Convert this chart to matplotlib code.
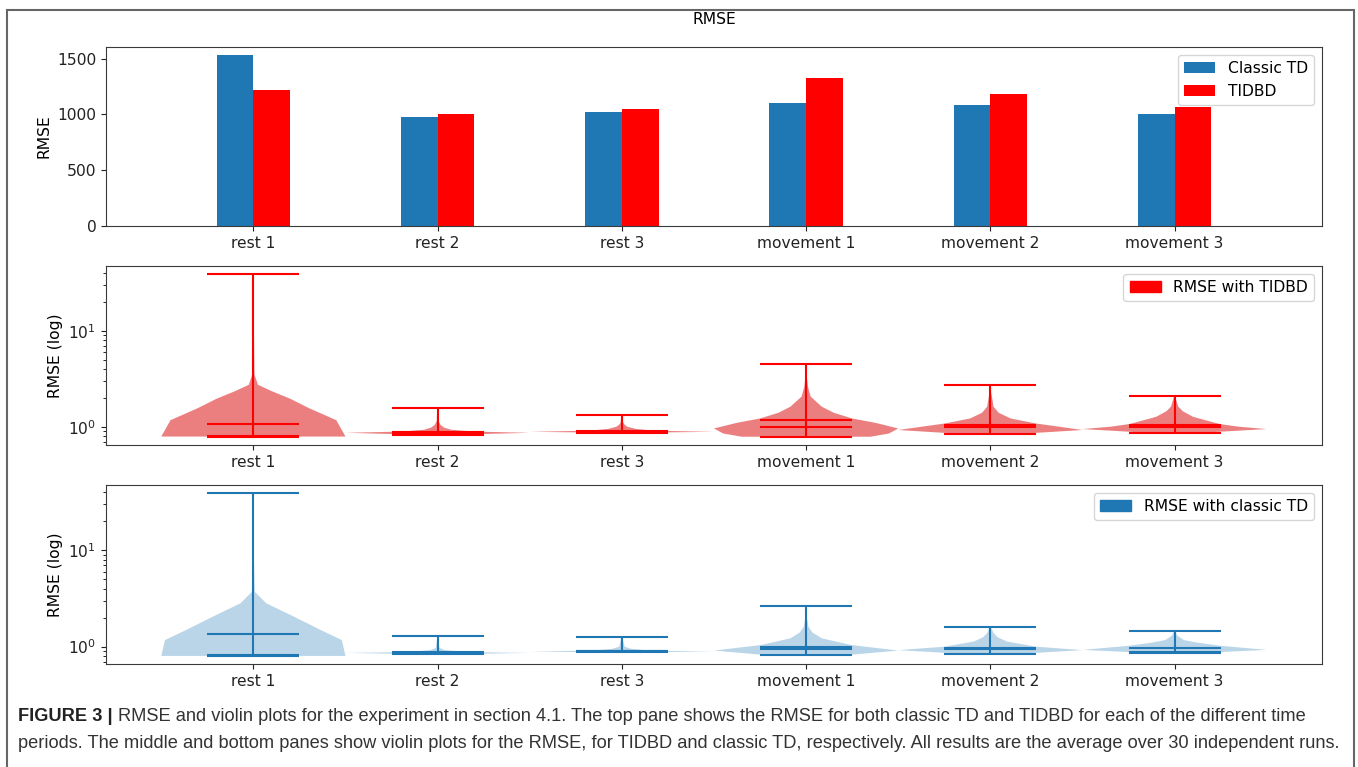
import numpy as np
import matplotlib
matplotlib.use("Agg")
import matplotlib.pyplot as plt
from matplotlib import font_manager
from matplotlib.patches import Rectangle, Patch

# ── Data ─────────────────────────────────────────────────────────────────────
categories = ["rest 1", "rest 2", "rest 3", "movement 1", "movement 2", "movement 3"]
rmse_classic = [1530, 975, 1020, 1105, 1088, 1000]
rmse_tidbd = [1222, 1008, 1045, 1323, 1180, 1070]

# violin outlines (y value, relative half-width) and summary lines, TIDBD
tidbd_coords = [
    [0.79, 1.17, 1.57, 1.96, 2.35, 2.74, 3.5, 10.0, 39.4],
    [0.83, 0.865, 0.89, 0.93, 0.98, 1.05, 1.15, 1.56],
    [0.87, 0.885, 0.91, 0.95, 1.0, 1.05, 1.1, 1.32],
    [0.787, 0.85, 0.96, 1.1, 1.22, 1.4, 1.62, 2.06, 2.6, 3.2, 4.52],
    [0.84, 0.925, 1.0, 1.08, 1.22, 1.4, 1.62, 2.25, 2.75],
    [0.866, 0.946, 1.0, 1.067, 1.27, 1.45, 1.62, 2.11],
]
tidbd_vals = [
    [1.0, 0.90, 0.60, 0.40, 0.20, 0.05, 0.012, 0.006, 0.003],
    [0.3, 1.0, 0.40, 0.15, 0.07, 0.03, 0.01, 0.005],
    [0.3, 1.0, 0.35, 0.15, 0.06, 0.03, 0.015, 0.005],
    [0.7, 0.9, 1.0, 0.75, 0.5, 0.3, 0.17, 0.05, 0.02, 0.01, 0.003],
    [0.3, 1.0, 0.75, 0.5, 0.22, 0.09, 0.035, 0.01, 0.003],
    [0.3, 1.0, 0.7, 0.49, 0.2, 0.09, 0.04, 0.003],
]
tidbd_mean = [1.075, 0.88, 0.90, 1.175, 1.05, 1.05]
tidbd_median = [0.81, 0.865, 0.89, 1.0, 0.985, 0.99]

# classic TD
classic_coords = [
    [0.80, 1.17, 1.49, 2.05, 2.82, 3.72, 10.0, 39.2],
    [0.84, 0.86, 0.88, 0.92, 0.97, 1.29],
    [0.875, 0.89, 0.91, 0.95, 1.0, 1.27],
    [0.81, 0.91, 1.04, 1.22, 1.4, 1.61, 2.05, 2.63],
    [0.84, 0.92, 1.0, 1.13, 1.25, 1.38, 1.61],
    [0.86, 0.925, 1.02, 1.1, 1.17, 1.3, 1.46],
]
classic_vals = [
    [1.0, 0.96, 0.73, 0.44, 0.14, 0.015, 0.004, 0.002],
    [0.3, 1.0, 0.3, 0.08, 0.02, 0.003],
    [0.3, 1.0, 0.3, 0.1, 0.03, 0.003],
    [0.4, 1.0, 0.49, 0.17, 0.07, 0.025, 0.008, 0.002],
    [0.3, 1.0, 0.49, 0.18, 0.08, 0.036, 0.003],
    [0.3, 1.0, 0.5, 0.25, 0.1, 0.03, 0.003],
]
classic_mean = [1.36, 0.87, 0.90, 0.985, 0.965, 0.976]
classic_median = [0.82, 0.865, 0.90, 0.94, 0.955, 0.875]

# ── Figure ───────────────────────────────────────────────────────────────────
W, H = 1358, 767
fig = plt.figure(figsize=(W / 100, H / 100), dpi=100)
fs = 11.2


def px_axes(top, bottom, left=106, right=1322):
    return fig.add_axes([left / W, 1 - bottom / H, (right - left) / W, (bottom - top) / H])


def style(ax):
    for s in ax.spines.values():
        s.set_color("#3a3a3a")
    ax.tick_params(labelsize=fs, colors="#222222")


# top: bar chart
ax0 = px_axes(47, 226)
x = np.arange(len(categories))
ax0.bar(x - 0.1, rmse_classic, width=0.2, color="#1f77b4", label="Classic TD")
ax0.bar(x + 0.1, rmse_tidbd, width=0.2, color="red", label="TIDBD")
ax0.set_xticks(x)
ax0.set_xticklabels(categories)
ax0.set_xlim(-0.8, 5.8)
ax0.set_ylim(0, 1605)
ax0.set_yticks([0, 500, 1000, 1500])
ax0.set_ylabel("RMSE", fontsize=fs)
ax0.legend(loc="upper right", fontsize=fs)
style(ax0)
fig.text(714 / W, 1 - 19 / H, "RMSE", ha="center", va="center", fontsize=fs)


def violins(ax, coords, vals, means, medians, fill, alpha, color, label):
    stats = []
    for c, v, m, md in zip(coords, vals, means, medians):
        stats.append({"coords": np.array(c), "vals": np.array(v), "mean": m,
                      "median": md, "min": c[0], "max": c[-1]})
    pos = np.arange(1, len(stats) + 1)
    parts = ax.violin(stats, positions=pos, widths=1.0,
                      showmeans=True, showextrema=True, showmedians=True)
    for b in parts["bodies"]:
        b.set_facecolor(fill)
        b.set_alpha(alpha)
        b.set_linewidth(0)
    for key in ["cmeans", "cmins", "cmaxes", "cbars", "cmedians"]:
        parts[key].set_color(color)
        parts[key].set_linewidth(1.5)
    ax.set_yscale("log")
    ax.set_xticks(pos)
    ax.set_xticklabels(categories)
    ax.set_xlim(0.2, 6.8)
    ax.set_ylabel("RMSE (log)", fontsize=fs)
    ax.legend(handles=[Patch(color=color, label=label)], loc="upper right", fontsize=fs)
    style(ax)


ax1 = px_axes(266, 445)
violins(ax1, tidbd_coords, tidbd_vals, tidbd_mean, tidbd_median,
        "#d80000", 0.5, "red", "RMSE with TIDBD")
ax1.set_ylim(0.645, 47.6)

ax2 = px_axes(485, 664)
violins(ax2, classic_coords, classic_vals, classic_mean, classic_median,
        "#1f77b4", 0.3, "#1f77b4", "RMSE with classic TD")
ax2.set_ylim(0.66, 47.8)

# frame around the figure
fig.patches.append(Rectangle((7 / W, -0.05), (1354 - 7) / W, 1.05 - 10 / H,
                             transform=fig.transFigure, fill=False,
                             edgecolor="#666666", linewidth=1.5))

# ── Caption ──────────────────────────────────────────────────────────────────
cap_family = "Liberation Sans"
try:
    font_manager.findfont(font_manager.FontProperties(family="Liberation Sans Narrow"),
                          fallback_to_default=False)
    cap_family = "Liberation Sans Narrow"
except Exception:
    pass

line1 = ("RMSE and violin plots for the experiment in section 4.1. The top pane shows the RMSE "
         "for both classic TD and TIDBD for each of the different time")
line2 = ("periods. The middle and bottom panes show violin plots for the RMSE, for TIDBD and "
         "classic TD, respectively. All results are the average over 30 independent runs.")

renderer = fig.canvas.get_renderer()
cap_fs = 12.0
probe = fig.text(0, 0, line2, fontsize=cap_fs, family=cap_family)
wpx = probe.get_window_extent(renderer).width
probe.remove()
cap_fs = cap_fs * (1340 - 18) / wpx

x0 = 18
bold = fig.text(x0 / W, 1 - 721 / H, "FIGURE 3 | ", fontsize=cap_fs, family=cap_family,
                weight="bold", color="#222222", va="baseline")
bw = bold.get_window_extent(renderer).width
fig.text((x0 + bw) / W, 1 - 721 / H, line1, fontsize=cap_fs, family=cap_family,
         color="#333333", va="baseline")
fig.text(x0 / W, 1 - 748 / H, line2, fontsize=cap_fs, family=cap_family,
         color="#333333", va="baseline")

fig.savefig("out.png", dpi=100)
